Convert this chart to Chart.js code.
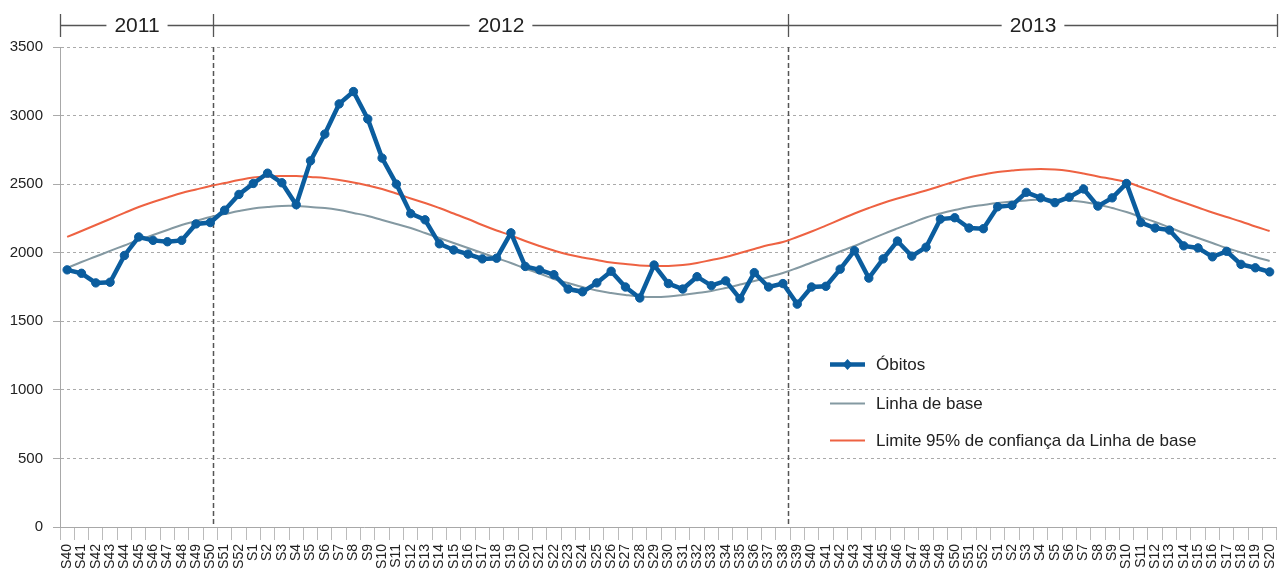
<!DOCTYPE html>
<html lang="pt">
<head>
<meta charset="utf-8">
<title>Óbitos semanais e linha de base</title>
<script src="https://cdn.jsdelivr.net/npm/chart.js@4.4.1/dist/chart.umd.min.js"></script>
<style>
  html, body { margin: 0; padding: 0; background: #fff; }
  #wrap { width: 1282px; height: 574px; position: relative; }
</style>
</head>
<body>
<div id="wrap"><canvas id="obitosChart"></canvas></div>
<script>
// === DADOS ===
const semanas = [
  'S40', 'S41', 'S42', 'S43', 'S44', 'S45', 'S46', 'S47', 'S48', 'S49', 'S50', 'S51', 'S52',
  'S1', 'S2', 'S3', 'S4', 'S5', 'S6', 'S7', 'S8', 'S9', 'S10', 'S11', 'S12', 'S13', 'S14', 'S15',
  'S16', 'S17', 'S18', 'S19', 'S20', 'S21', 'S22', 'S23', 'S24', 'S25', 'S26', 'S27', 'S28', 'S29',
  'S30', 'S31', 'S32', 'S33', 'S34', 'S35', 'S36', 'S37', 'S38', 'S39', 'S40', 'S41', 'S42', 'S43',
  'S44', 'S45', 'S46', 'S47', 'S48', 'S49', 'S50', 'S51', 'S52',
  'S1', 'S2', 'S3', 'S4', 'S5', 'S6', 'S7', 'S8', 'S9', 'S10', 'S11', 'S12', 'S13', 'S14', 'S15',
  'S16', 'S17', 'S18', 'S19', 'S20'
];

const obitos = [
  1875, 1850, 1780, 1785, 1980, 2115, 2090, 2080, 2090, 2210, 2220, 2310, 2425,
  2505, 2580, 2510, 2350, 2670, 2865, 3085, 3175, 2975, 2690, 2500, 2285, 2240, 2065, 2020,
  1990, 1955, 1960, 2145, 1900, 1875, 1840, 1735, 1715, 1780, 1865, 1750, 1670, 1910,
  1775, 1735, 1825, 1760, 1795, 1665, 1855, 1750, 1775, 1625, 1750, 1755, 1880, 2015,
  1815, 1955, 2085, 1975, 2040, 2245, 2255, 2180, 2175,
  2335, 2345, 2440, 2400, 2365, 2405, 2465, 2340, 2400, 2505, 2220, 2180, 2165, 2050, 2035,
  1970, 2010, 1915, 1890, 1860
];

const linhaBase = [
  1889, 1932, 1972, 2013, 2053, 2093, 2129, 2166, 2202, 2231, 2260, 2282, 2304,
  2322, 2333, 2341, 2341, 2333, 2326, 2311, 2290, 2268, 2239, 2210, 2180, 2144, 2107, 2071,
  2034, 1998, 1961, 1925, 1885, 1848, 1808, 1779, 1750, 1724, 1706, 1692, 1681, 1677,
  1681, 1692, 1706, 1721, 1743, 1768, 1794, 1823, 1852, 1889, 1929, 1969, 2009, 2049,
  2093, 2136, 2177, 2217, 2257, 2286, 2311, 2333, 2348,
  2362, 2373, 2381, 2388, 2388, 2381, 2370, 2352, 2326, 2297, 2260, 2224, 2184, 2144, 2107,
  2071, 2034, 2002, 1969, 1940
];

const limite95 = [
  2115, 2158, 2202, 2246, 2290, 2333, 2370, 2403, 2435, 2461, 2486, 2508, 2530,
  2548, 2556, 2559, 2559, 2552, 2545, 2530, 2512, 2490, 2465, 2432, 2395, 2363, 2326, 2286,
  2246, 2202, 2162, 2126, 2085, 2049, 2016, 1987, 1965, 1947, 1929, 1918, 1907, 1903,
  1903, 1910, 1925, 1947, 1969, 1998, 2027, 2056, 2078, 2115, 2155, 2198, 2242, 2286,
  2326, 2363, 2395, 2424, 2454, 2486, 2519, 2548, 2570,
  2589, 2599, 2607, 2610, 2607, 2596, 2578, 2556, 2537, 2516, 2479, 2443, 2403, 2366, 2330,
  2293, 2260, 2228, 2191, 2158
];

const yTicks = [0, 500, 1000, 1500, 2000, 2500, 3000, 3500];

// anos e limites (posição em índice de semana, fracionária)
const anos = ['2011', '2012', '2013'];
const limitesAnos = [-0.5, 10.18, 50.37, 84.5];

const FONT = "'Liberation Sans', Arial, Helvetica, sans-serif";
const COR_OBITOS = '#0B5D9E';
const COR_BASE = '#8499A2';
const COR_LIMITE = '#EE6242';

function pixelIndice(scale, f) {
    return scale.getPixelForDecimal((f + 0.5) / semanas.length);
}

// linhas tracejadas verticais + régua dos anos
const anosPlugin = {
    id: 'anos',
    beforeDatasetsDraw(chart) {
        const { ctx, chartArea, scales: { x } } = chart;
        ctx.save();
        ctx.strokeStyle = '#555';
        ctx.lineWidth = 1.5;
        ctx.setLineDash([5, 3]);
        for (let i = 1; i < limitesAnos.length - 1; i++) {
            const px = Math.round(pixelIndice(x, limitesAnos[i])) + 0.5;
            ctx.beginPath();
            ctx.moveTo(px, chartArea.top);
            ctx.lineTo(px, chartArea.bottom);
            ctx.stroke();
        }
        ctx.restore();
    },
    afterDraw(chart) {
        const { ctx, scales: { x } } = chart;
        const yLine = 25.5;
        ctx.save();
        ctx.strokeStyle = '#555';
        ctx.lineWidth = 1.3;
        ctx.font = '21px ' + FONT;
        ctx.fillStyle = '#222';
        ctx.textAlign = 'center';
        ctx.textBaseline = 'middle';
        const xs = limitesAnos.map(f => Math.round(pixelIndice(x, f)) + 0.5);
        xs.forEach(px => {
            ctx.beginPath();
            ctx.moveTo(px, 14);
            ctx.lineTo(px, 37);
            ctx.stroke();
        });
        for (let i = 0; i < anos.length; i++) {
            const a = xs[i], b = xs[i + 1];
            const mid = (a + b) / 2;
            const half = ctx.measureText(anos[i]).width / 2 + 8;
            ctx.beginPath();
            ctx.moveTo(a, yLine);
            ctx.lineTo(mid - half, yLine);
            ctx.moveTo(mid + half, yLine);
            ctx.lineTo(b, yLine);
            ctx.stroke();
            ctx.fillText(anos[i], mid, yLine + 1);
        }
        ctx.restore();
    }
};

// legenda dentro da área do gráfico
const legendaPlugin = {
    id: 'legendaInterna',
    afterDatasetsDraw(chart) {
        const { ctx } = chart;
        const x0 = 830, lineLen = 35, textX = 876;
        const rows = [364, 403, 440];
        ctx.save();
        ctx.font = '17px ' + FONT;
        ctx.textBaseline = 'middle';
        chart.data.datasets.forEach((ds, i) => {
            const y = rows[i];
            const w = ctx.measureText(ds.label).width;
            ctx.fillStyle = '#fff';
            ctx.fillRect(x0 - 8, y - 12, textX - x0 + w + 8, 24);
            ctx.strokeStyle = ds.borderColor;
            ctx.lineWidth = i === 0 ? 4.5 : 2;
            ctx.beginPath();
            ctx.moveTo(x0, y + 0.5);
            ctx.lineTo(x0 + lineLen, y + 0.5);
            ctx.stroke();
            if (i === 0) {
                const cx = x0 + lineLen / 2;
                ctx.fillStyle = ds.borderColor;
                ctx.beginPath();
                ctx.moveTo(cx, y - 5);
                ctx.lineTo(cx + 5, y + 0.5);
                ctx.lineTo(cx, y + 6);
                ctx.lineTo(cx - 5, y + 0.5);
                ctx.closePath();
                ctx.fill();
            }
            ctx.fillStyle = '#222';
            ctx.fillText(ds.label, textX, y + 1);
        });
        ctx.restore();
    }
};

new Chart(document.getElementById('obitosChart'), {
    type: 'line',
    data: {
        labels: semanas,
        datasets: [
            { label: 'Óbitos', data: obitos, borderColor: COR_OBITOS, backgroundColor: COR_OBITOS, borderWidth: 4.5, tension: 0, pointRadius: 4.2, pointHoverRadius: 4.2, pointBackgroundColor: COR_OBITOS, pointBorderColor: COR_OBITOS, pointBorderWidth: 1 },
            { label: 'Linha de base', data: linhaBase, borderColor: COR_BASE, backgroundColor: 'transparent', borderWidth: 2, tension: 0.4, pointRadius: 0 },
            { label: 'Limite 95% de confiança da Linha de base', data: limite95, borderColor: COR_LIMITE, backgroundColor: 'transparent', borderWidth: 2, tension: 0.4, pointRadius: 0 }
        ]
    },
    options: {
        responsive: true,
        maintainAspectRatio: false,
        animation: false,
        layout: { padding: { top: 47, right: 4, left: 0, bottom: 0 } },
        plugins: {
            legend: { display: false },
            tooltip: { enabled: false }
        },
        scales: {
            x: {
                offset: true,
                grid: { offset: true, drawOnChartArea: false, drawTicks: true, tickLength: 13, color: '#bbb', tickColor: '#bbb' },
                border: { display: true, color: '#a8a8a8', width: 1 },
                ticks: { autoSkip: false, minRotation: 90, maxRotation: 90, padding: 4, color: '#222', font: { family: FONT, size: 14 } },
                afterFit(scale) {
                    scale.height = 47;
                    scale.paddingLeft = 0;
                    scale.paddingRight = 0;
                }
            },
            y: {
                min: 0,
                max: 3500,
                afterBuildTicks(scale) { scale.ticks = yTicks.map(v => ({ value: v })); },
                grid: { color: '#aaa', lineWidth: 1, tickLength: 7, tickColor: '#aaa', tickBorderDash: [] },
                border: { display: true, color: '#a8a8a8', width: 1, dash: [3, 3] },
                ticks: { padding: 10, color: '#222', font: { family: FONT, size: 15 }, callback: v => String(v) },
                afterFit(scale) { scale.width = 60; }
            }
        }
    },
    plugins: [anosPlugin, legendaPlugin]
});
</script>
</body>
</html>
